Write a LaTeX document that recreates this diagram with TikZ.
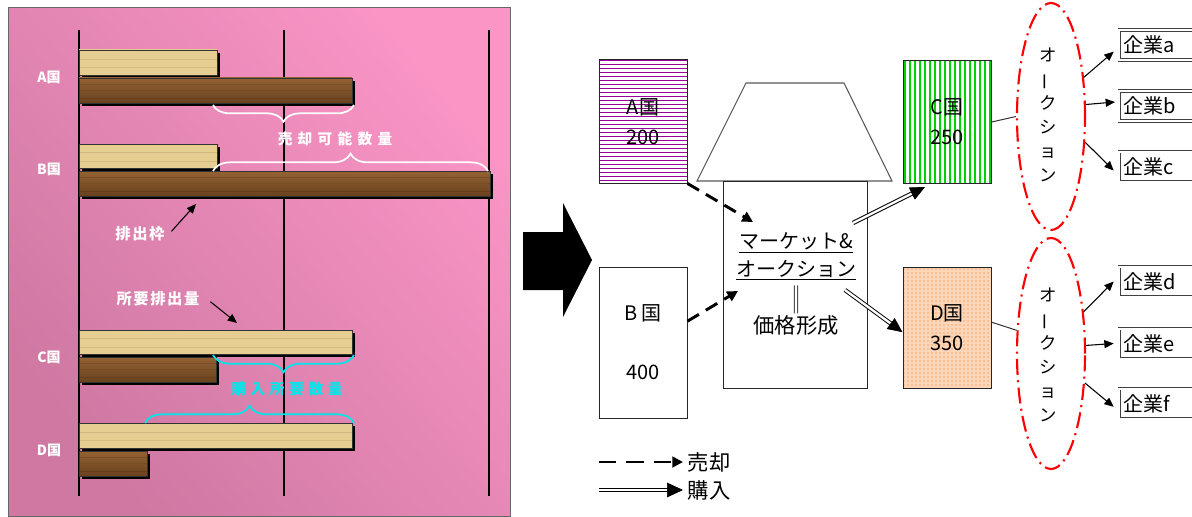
\documentclass[tikz,border=0pt]{standalone}
\usepackage{fontspec}
\usepackage{graphicx}
\setmainfont{Noto Sans CJK JP}
\usetikzlibrary{arrows.meta,shapes.geometric,decorations.pathreplacing,patterns,patterns.meta,calc}
\definecolor{pinkL}{RGB}{250,149,198}
\definecolor{pinkD}{RGB}{206,120,162}
\definecolor{woodL}{RGB}{248,234,190}
\definecolor{woodL2}{RGB}{230,205,145}
\definecolor{woodD}{RGB}{176,124,72}
\definecolor{woodD1}{RGB}{148,98,52}
\definecolor{woodD2}{RGB}{105,66,30}
\definecolor{woodStreak}{RGB}{90,55,22}
\definecolor{cyanB}{RGB}{0,230,235}
\definecolor{stripeA}{RGB}{153,0,153}
\definecolor{stripeC}{RGB}{0,210,0}
\definecolor{peach}{RGB}{252,214,182}
\definecolor{dotD}{RGB}{240,120,50}
\definecolor{redE}{RGB}{255,0,0}

\newcommand\lightwood[4]{%
  \fill[black] (#1+3,#2+3) rectangle (#3+3,#4+3);
  \shade[top color=woodL2, middle color=woodL, bottom color=woodL2] (#1,#2) rectangle (#3,#4);
  \draw[woodL2!70!black, line width=0.2pt, opacity=0.3] (#1,{#2+0.35*(#4-#2)}) -- (#3,{#2+0.35*(#4-#2)});
  \draw[woodL2!70!black, line width=0.2pt, opacity=0.25] (#1,{#2+0.7*(#4-#2)}) -- (#3,{#2+0.7*(#4-#2)});
  \draw[black!80, line width=0.5pt] (#1,#2) rectangle (#3,#4);}
\newcommand\darkwood[4]{%
  \fill[black] (#1+3,#2+3) rectangle (#3+3,#4+3);
  \shade[top color=woodD1, middle color=woodD, bottom color=woodD2] (#1,#2) rectangle (#3,#4);
  \draw[woodStreak, line width=0.3pt, opacity=0.35] (#1,{#2+0.25*(#4-#2)}) -- (#3,{#2+0.25*(#4-#2)});
  \draw[woodStreak, line width=0.3pt, opacity=0.25] (#1,{#2+0.5*(#4-#2)}) -- (#3,{#2+0.5*(#4-#2)});
  \draw[woodStreak, line width=0.7pt, opacity=0.5] (#1,{#2+0.8*(#4-#2)}) -- (#3,{#2+0.8*(#4-#2)});
  \draw[black!80, line width=0.5pt] (#1,#2) rectangle (#3,#4);}

\begin{document}
\begin{tikzpicture}[x=0.75pt,y=-0.75pt,
  lbl/.style={text=white, inner sep=0, font=\fontsize{10.5}{12}\selectfont\bfseries},
  wbrace/.style={decorate, decoration={brace, amplitude=12.5pt}, line width=1.3pt},
  blk/.style={-{Triangle[length=7pt,width=6pt]}, line width=0.8pt},
  box/.style={draw=black!85, line width=0.75pt, minimum width=66pt, align=center, inner sep=0, font=\fontsize{15}{22.5}\selectfont},
  mtext/.style={inner sep=0, font=\fontsize{15}{18}\selectfont},
  comp/.style={draw=black!75, double=white, double distance=1.5pt, line width=0.6pt, anchor=west, minimum height=22.5pt, text width=90pt, align=left, inner xsep=3pt, inner ysep=0pt, font=\fontsize{15}{18}\selectfont},
  dsh/.style={line width=2.2pt, dash pattern=on 10pt off 6pt, -{Triangle[length=8pt,width=8pt]}},
  dbl/.style={double, line width=0.7pt, double distance=1.8pt},
  dblhead/.style={-{Triangle[length=11pt,width=10pt]}, line width=0.5pt},
  auc/.style={ellipse, draw=redE, line width=1.6pt, dash pattern=on 12pt off 4pt on 1.5pt off 4pt, minimum width=51pt, inner sep=0},
  vtext/.style={inner sep=0, align=center, font=\fontsize{13}{18}\selectfont}
]
\useasboundingbox (0,0) rectangle (1192,517);
\clip (0,0) rectangle (1192,517);

%% ---------- left panel ----------
\shade[top color=pinkL, bottom color=pinkD, shading angle=-50] (8,8) rectangle (510,516);
\draw[black!60, line width=0.75pt] (8,8) rectangle (510,516);
\foreach \xx in {79,284,489} \draw[black, line width=1pt] (\xx,30) -- (\xx,496);

\lightwood{79}{50}{217}{75}
\darkwood{79}{78}{352}{103}
\lightwood{79}{144}{217}{168}
\darkwood{79}{171}{490}{196}
\lightwood{79}{330}{352}{354}
\darkwood{79}{357}{216}{382}
\lightwood{79}{423}{352}{448}
\darkwood{79}{451}{147}{476}

\node[lbl] (la) at (49,77) {A国};
\node[lbl] (lb) at (49,169) {B国};
\node[lbl] (lc) at (49,357) {C国};
\node[lbl] (ld) at (49,450) {D国};

\draw[white, wbrace] (354,105) -- (213,105);
\draw[white, wbrace, decoration={brace, amplitude=13pt}] (213,171) -- (488,171);
\node[lbl, font=\fontsize{11}{12}\selectfont\bfseries\addfontfeature{LetterSpace=36}] (sell) at (335,139) {売却可能数量};

\draw[cyanB, wbrace, decoration={brace, amplitude=13pt}] (354,355) -- (213,355);
\draw[cyanB, wbrace, decoration={brace, amplitude=13pt}] (145,423) -- (354,423);
\node[lbl, text=cyanB, font=\fontsize{11}{12}\selectfont\bfseries\addfontfeature{LetterSpace=32}] (buy) at (287,389) {購入所要数量};

\node[lbl, font=\fontsize{11.5}{12}\selectfont\bfseries\addfontfeature{LetterSpace=10}] (quota) at (140,234) {排出枠};
\coordinate (qtip) at (196,204);
\draw[blk] ([xshift=5pt,yshift=2pt]quota.east) -- (qtip);

\node[lbl, font=\fontsize{11.5}{12}\selectfont\bfseries\addfontfeature{LetterSpace=10}] (need) at (158,299) {所要排出量};
\coordinate (ntip) at (237,323);
\draw[blk] ([xshift=8pt,yshift=-2pt]need.east) -- (ntip);

%% ---------- big arrow ----------
\fill[black] (523,232) -- (563,232) -- (563,203) -- (592,260) -- (563,317) -- (563,290) -- (523,290) -- cycle;

%% ---------- right diagram ----------
\node[box, minimum height=92.25pt, preaction={fill=white}, pattern={Lines[angle=0,distance=3pt,line width=0.75pt]}, pattern color=stripeA] (abox) at (643,121.5) {A国\\200};
\node[box, minimum height=113.25pt] (bbox) at (643,342.5) {B 国\\[22pt]400};
\node[box, minimum height=91.5pt, preaction={fill=white}, pattern={Lines[angle=90,distance=3.75pt,line width=1pt]}, pattern color=stripeC] (cbox) at (947,122) {C国\\250};
\node[box, minimum height=90.75pt, preaction={fill=peach}, pattern=dots, pattern color=dotD] (dbox) at (947,327.5) {D国\\350};

\draw[black!65, line width=0.8pt] (746,83) -- (844,83) -- (892,181) -- (697,181) -- cycle;
\node[draw=black!85, line width=0.75pt, minimum width=108pt, minimum height=155.25pt, inner sep=0] (mk) at (795,284.5) {};
\node[mtext] (m1) at (796,243) {\underline{マーケット\&}};
\node[mtext] (m2) at (796,270) {\underline{オークション}};
\node[mtext] (m3) at (796,300) {\scalebox{1.1}[1.4]{‖}};
\node[mtext, font=\fontsize{16}{18}\selectfont] (m4) at (796,325) {価格形成};

\coordinate (ma) at (753,222);
\coordinate (mb) at (738,291);
\draw[dsh] (abox.south east) -- (ma);
\draw[dsh] ([yshift=16pt]bbox.east) -- (mb);

\coordinate (mc) at (853,223);
\coordinate (tc) at (925,187);
\draw[dbl, shorten >=10pt] (mc) -- (tc);
\draw[dblhead] ($(tc)!11pt!(mc)$) -- (tc);
\coordinate (md) at (845,290);
\coordinate (td) at ([yshift=-3.5pt]dbox.west);
\draw[dbl, shorten >=10pt] (md) -- (td);
\draw[dblhead] ($(td)!11pt!(md)$) -- (td);

%% auctions
\node[auc, minimum height=170.25pt] (e1) at (1051,116.5) {};
\node[auc, minimum height=173.25pt] (e2) at (1051,353.5) {};
\node[vtext] (v1) at (1048,115) {オ\\\rotatebox[origin=c]{90}{ー}\\ク\\シ\\ョ\\ン};
\node[vtext] (v2) at (1048,355) {オ\\\rotatebox[origin=c]{90}{ー}\\ク\\シ\\ョ\\ン};

\draw[black!80, line width=0.75pt] (cbox.east) -- (e1.west);
\draw[black!80, line width=0.75pt] ([yshift=4pt]dbox.east) -- (e2.146.6);

\node[comp] (ca) at (1119,45) {企業a};
\node[comp] (cb) at (1119,106) {企業b};
\node[comp] (cc) at (1119,166.5) {企業c};
\node[comp] (cd) at (1119,281.5) {企業d};
\node[comp] (ce) at (1119,343.5) {企業e};
\node[comp] (cf) at (1119,403.5) {企業f};

\draw[blk] (e1.50.3) -- ([xshift=-4pt,yshift=-5pt]ca.west);
\draw[blk] (e1.19.2) -- ([xshift=-3pt,yshift=3pt]cb.west);
\draw[blk] (e1.-37.4) -- ([xshift=-4pt,yshift=-3pt]cc.west);
\draw[blk] (e2.52) -- ([xshift=-4pt]cd.west);
\draw[blk] (e2.13.6) -- ([xshift=-4pt]ce.west);
\draw[blk] (e2.-41.2) -- ([xshift=-4pt,yshift=-2.5pt]cf.west);

%% legend
\node[anchor=west, inner xsep=3.5pt, inner ysep=0, font=\fontsize{16}{18}\selectfont] (lg1) at (683,462) {売却};
\node[anchor=west, inner xsep=3.5pt, inner ysep=0, font=\fontsize{16}{18}\selectfont] (lg2) at (683,490) {購入};
\coordinate (ls1) at (599,462);
\coordinate (ls2) at (599,490);
\draw[dsh, dash pattern=on 13pt off 7.5pt] (ls1) -- (lg1.west);
\draw[dbl, shorten >=11pt] (ls2) -- (lg2.west);
\draw[dblhead, {-Triangle[length=12pt,width=11pt]}] ($(lg2.west)!12pt!(ls2)$) -- (lg2.west);
\end{tikzpicture}
\end{document}
